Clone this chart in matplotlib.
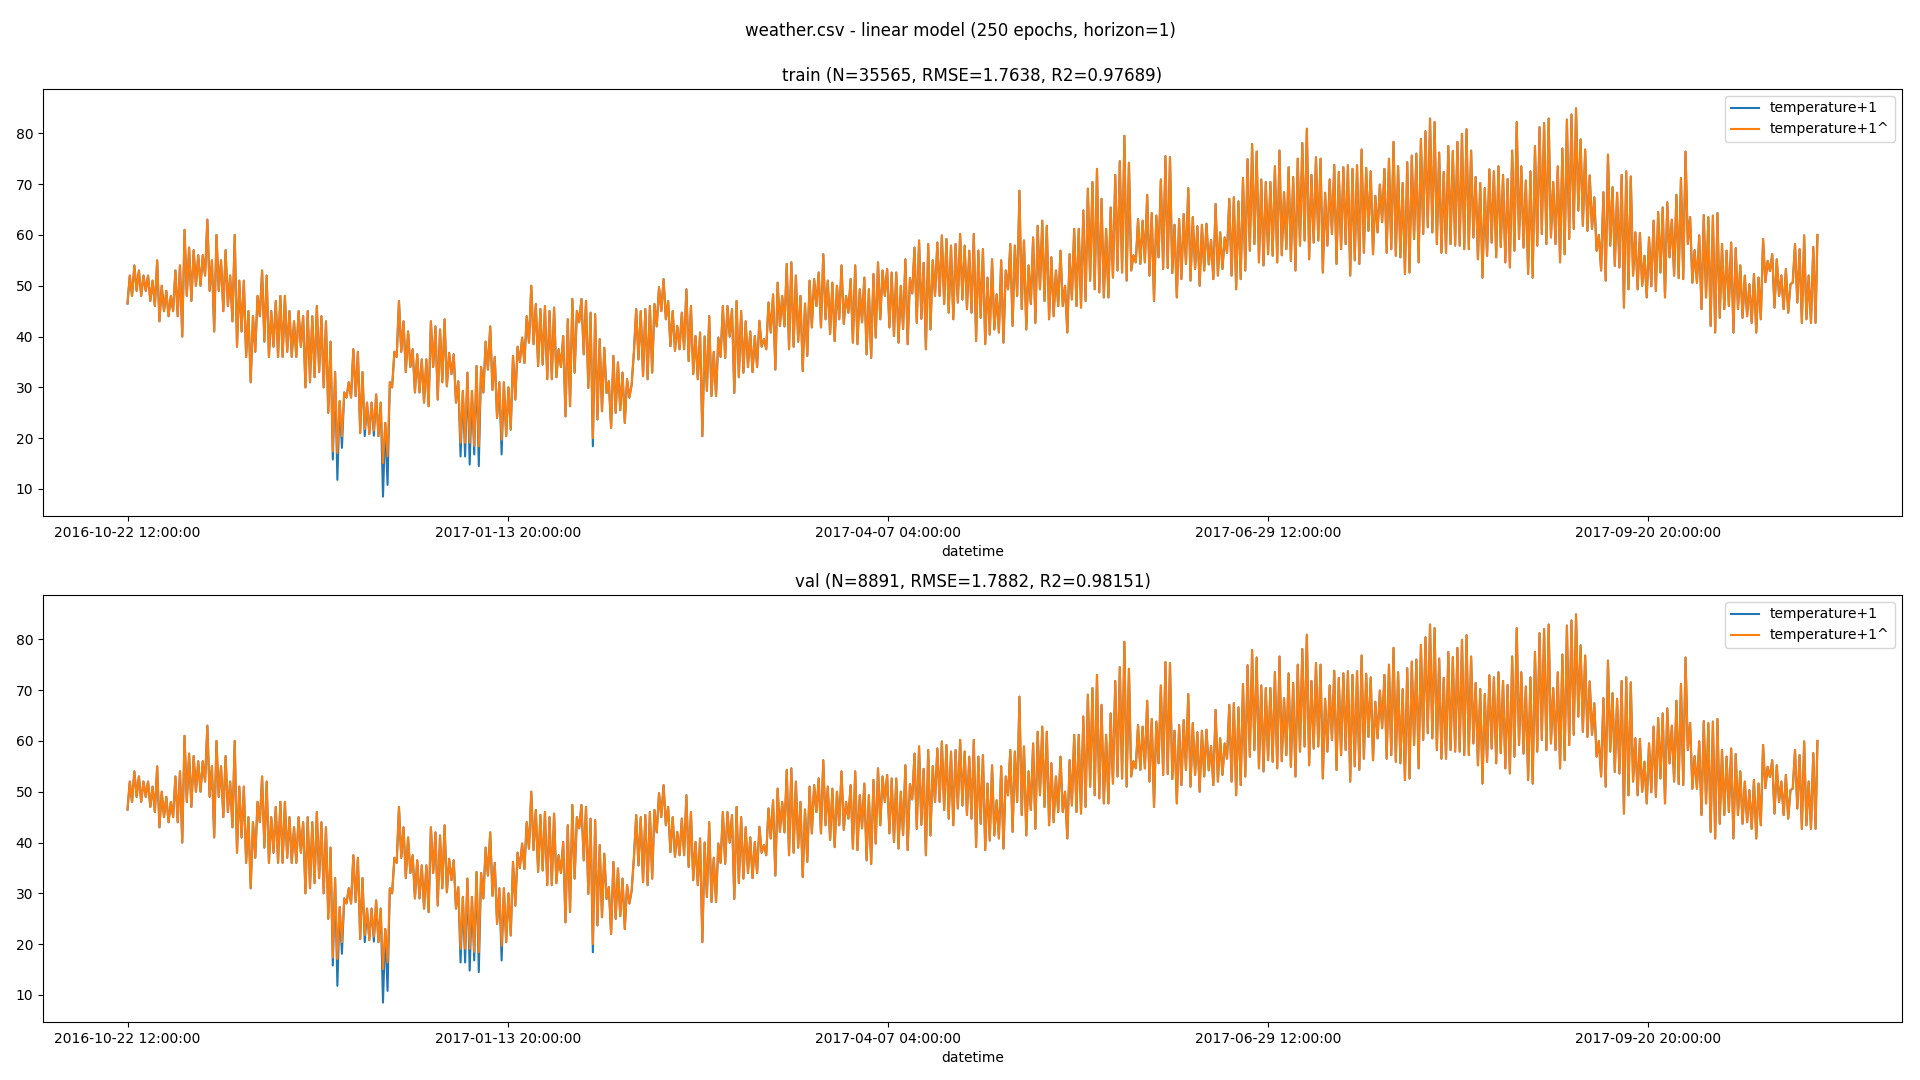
import numpy as np
import matplotlib
matplotlib.use('Agg')
import matplotlib.pyplot as plt

# daily low / high of temperature+1 (day 0 = 2016-10-22 12:00)
temp_lo = [
    # days 0-32
    46.5, 48, 49, 48, 49, 47, 46, 43, 45, 44, 45, 44, 40, 48, 47, 50, 50, 52, 49, 41,
    49, 45, 46, 43, 38, 41, 36, 31, 37, 44, 39, 36, 38,
    # days 33-65
    36, 36, 37, 36, 36, 38, 30, 31, 32, 33, 30, 25, 15.8, 11.8, 18.1, 28, 28, 28.3, 21, 20.4,
    20.8, 20.5, 20.4, 8.5, 10.8, 30, 36, 37, 33, 34, 29, 29, 27,
    # days 66-100
    26.3, 34, 27.6, 31, 30.2, 32.6, 27, 16.4, 16.4, 14.8, 16.8, 14.5, 29, 33.5, 29.5, 24, 16.8, 20.4, 21.7, 27.6,
    35, 34.8, 38.8, 38.5, 34.2, 34.5, 31.6, 31.6, 32, 34, 24.3, 26.3, 32.9, 42.8, 36.5,
    # days 101-134
    29.9, 18.4, 23.7, 25.3, 28.9, 22, 25, 25.5, 23, 28, 37, 35.5, 32.2, 31.6, 32.9, 42, 45, 43.4, 38.1, 37.2,
    37.5, 37.5, 35.2, 32.6, 31.6, 20.4, 29.3, 28.3, 28.3, 36, 35.8, 40, 28.9, 32,
    # days 135-167
    32.9, 34, 33, 34, 38, 37.5, 40.8, 33.5, 42.1, 42, 37.5, 38, 39, 33.2, 36.2, 41.8, 46, 41.8, 43.4, 40.5,
    39.1, 43.4, 42.5, 44.7, 38.8, 38.5, 42.8, 36.5, 35.8, 39.8, 43.4, 48, 41.8,
    # days 168-201
    40.1, 38.8, 41.5, 38.5, 48.5, 42.7, 43.5, 37.5, 41.4, 48, 48, 46.4, 44.7, 43.4, 46.7, 47.3, 45.4, 44.7, 39.1, 43.7,
    38.5, 40.4, 41.4, 40.8, 38.8, 49.3, 42.1, 48, 45.4, 41.4, 46.4, 42.7, 49.3, 47,
    # days 202-235
    43.4, 44, 46, 46, 40.8, 47.3, 46, 45.7, 47, 51, 49.3, 48.7, 47.7, 47.7, 51.6, 53, 52.6, 51, 53, 54.6,
    54.3, 54.6, 52, 47, 55.6, 53.3, 53.5, 52.5, 47.7, 51.3, 54.3, 51, 53.3, 50,
    # days 236-269
    53, 54.2, 51.3, 52, 53.3, 56.5, 52, 49.3, 51.3, 53, 56.9, 58.2, 54.6, 54, 56.2, 55.9, 54.6, 56, 57.2, 54.9,
    53, 57.9, 58.9, 55.2, 58.5, 58.9, 52.6, 57.9, 60.2, 54.3, 57.2, 58.2, 52, 55,
    # days 270-302
    54.3, 56.5, 60.8, 56.2, 60.5, 62.5, 56.5, 57.2, 55.9, 55.6, 52.3, 52.6, 59.2, 54.6, 60.2, 61.5, 60.5, 58.2, 56.5, 56.5,
    58.2, 57.9, 57.9, 57.2, 57.2, 59.5, 55.2, 51.6, 55.9, 58.5, 55.6, 57.6, 54.6,
    # days 303-336
    53.6, 56.9, 59.2, 57.5, 52.3, 51.6, 57.9, 60.2, 58.2, 59.5, 58.2, 54.6, 56.2, 59.2, 61.2, 64.8, 61.8, 60.8, 61.2, 56.9,
    53, 51, 57.9, 53.9, 53.6, 45.7, 49.3, 52, 49.3, 50, 47.7, 49.9, 49, 52.6,
    # days 337-370
    47.7, 55.6, 52, 51.5, 51.3, 58.2, 50.6, 50.6, 45.4, 47.7, 42.1, 40.8, 43.7, 45.4, 46, 40.8, 45.4, 43.7, 44, 42.7,
    40.8, 43.4, 50.7, 52.9, 45.7, 48, 45.4, 44.7, 50.6, 46.7, 42.7, 43.4, 42.7, 42.7,
]

temp_hi = [
    # days 0-32
    52, 54, 53, 52, 52, 51, 55, 50, 49, 48, 53, 54, 61, 57.5, 57, 56, 56, 63, 55, 60,
    55, 57, 52, 60, 51, 51, 45, 44, 48, 53, 52, 45, 47,
    # days 33-65
    48, 48, 45, 43, 45, 44, 45, 44, 46, 44, 43, 39, 33, 27.3, 29, 31, 37.5, 37, 33, 27,
    27, 28.6, 27, 23, 31, 37, 47, 43, 41, 37.5, 36.5, 35.5, 35.5,
    # days 66-100
    43, 42, 41.4, 43.4, 36.8, 36.5, 31.2, 29.3, 32.9, 29.3, 34.2, 34, 39, 42, 36, 31, 31, 30, 36.2, 38,
    39.8, 44, 50, 46.4, 45.4, 46, 45, 45.7, 37.5, 40.1, 43.4, 47.4, 45, 47.4, 47,
    # days 101-134
    44.7, 44.4, 39.5, 37.8, 31.2, 36.2, 34.9, 32.9, 31.6, 30.5, 45.4, 45, 45.4, 46, 46.4, 49.7, 51.3, 47, 45, 42.1,
    44.7, 49.3, 46, 40.1, 40.8, 40, 44, 37, 39.8, 46, 46, 45.4, 47, 45,
    # days 135-167
    43, 41, 40.1, 43.1, 39.5, 46.7, 48.3, 50.6, 48, 54.3, 54.6, 52, 48, 46.5, 51, 51.3, 52.6, 56.2, 51, 50.6,
    50, 54, 48, 51.3, 54, 49.3, 51.6, 49.3, 52.3, 54.6, 53, 53.3, 52.6,
    # days 168-201
    52.6, 50, 55.2, 51.5, 57.5, 58.9, 54.5, 58.2, 55, 58.5, 59.9, 59.2, 57.9, 58.2, 60.2, 57.9, 56.9, 60.2, 56.9, 57.2,
    51.6, 55.2, 48.3, 55, 53, 58.2, 57.9, 68.7, 58.9, 54, 59.5, 61.8, 62.8, 61.8,
    # days 202-235
    55.6, 53, 56.9, 50, 56.2, 61.2, 61.2, 64.8, 69.1, 70.4, 73, 67.1, 61.2, 65.4, 71.8, 74.5, 79.5, 74.2, 56, 63.1,
    62.8, 67.9, 64.3, 63.8, 70.9, 75.5, 75.3, 62, 63.1, 64.1, 69.2, 63.5, 61.7, 62,
    # days 236-269
    62.2, 59, 66.1, 60.5, 59.5, 67.1, 67.4, 66.6, 71.2, 74.9, 77.9, 76.4, 70.9, 70.4, 70.4, 73.5, 76.6, 68.4, 73.3, 71.4,
    75, 78.1, 80.9, 71.8, 75.3, 75, 68.3, 70.9, 73.8, 72.4, 73.3, 73.7, 73, 73.7,
    # days 270-302
    76.8, 73.2, 72.5, 67.7, 69.9, 73, 75, 78.3, 73.5, 70.2, 74.3, 75.6, 76, 78.9, 80.4, 82.9, 82.2, 76.2, 72.4, 77.5,
    76.5, 78.3, 79.9, 80.8, 76.6, 71.4, 70.2, 69.2, 72.9, 72.5, 73.5, 71.8, 71,
    # days 303-336
    76.6, 82.2, 73.5, 70.7, 72.5, 77.5, 81.2, 82, 82.9, 70.4, 73.5, 77, 82.7, 83.7, 84.9, 78.8, 76.8, 71.7, 67.4, 60,
    68.4, 75.8, 69.4, 68.3, 71.8, 72.5, 71.5, 60.5, 60.4, 55.9, 59.5, 62.8, 64.5, 65.4,
    # days 337-370
    66.4, 63, 67.9, 71.2, 76.4, 63.5, 57, 59.9, 63.9, 63.5, 63.8, 64.3, 58.2, 56.9, 58.5, 57.4, 54, 52, 50.3, 52.3,
    51.6, 59.2, 54.9, 56.2, 55.2, 52, 53.3, 50.3, 58.2, 57.2, 59.9, 52, 57.6, 60,
]

# days where the model's low sits visibly above the actual low (blue shows below)
pred_lo_fix = {45: 17.4, 46: 17.1, 47: 20.4, 52: 21.8, 54: 21.5, 56: 15.1, 57: 16.4,
               73: 19.1, 74: 19.1, 75: 19.1, 76: 18.5, 77: 18.4, 82: 19.7, 102: 20}

tick_pos = [0, 2000, 4000, 6000, 8000]
tick_labels = ['2016-10-22 12:00:00', '2017-01-13 20:00:00', '2017-04-07 04:00:00',
               '2017-06-29 12:00:00', '2017-09-20 20:00:00']
last_idx = 8890

titles = ['train (N=35565, RMSE=1.7638, R2=0.97689)',
          'val (N=8891, RMSE=1.7882, R2=0.98151)']


def to_hourly_index(lo, hi):
    t, v = [], []
    for d in range(len(lo)):
        t += [24 * d, min(24 * d + 12, last_idx)]
        v += [lo[d], hi[d]]
    return np.array(t), np.array(v)


pred_lo = [pred_lo_fix.get(d, v) for d, v in enumerate(temp_lo)]
t, actual = to_hourly_index(temp_lo, temp_hi)
_, pred = to_hourly_index(pred_lo, temp_hi)

fig = plt.figure(figsize=(19.2, 10.8), dpi=100)
ax1 = fig.add_axes([0.0224, 0.5222, 0.9682, 0.3954])
ax2 = fig.add_axes([0.0224, 0.0537, 0.9682, 0.3954])
fig.suptitle('weather.csv - linear model (250 epochs, horizon=1)')

for ax, title in zip([ax1, ax2], titles):
    ax.plot(t, actual, label='temperature+1')
    ax.plot(t, pred, label='temperature+1^')
    ax.set_xticks(tick_pos)
    ax.set_xticklabels(tick_labels)
    ax.set_xlabel('datetime')
    ax.set_title(title)
    ax.legend(loc='upper right')

fig.savefig('out.png', dpi=100)
